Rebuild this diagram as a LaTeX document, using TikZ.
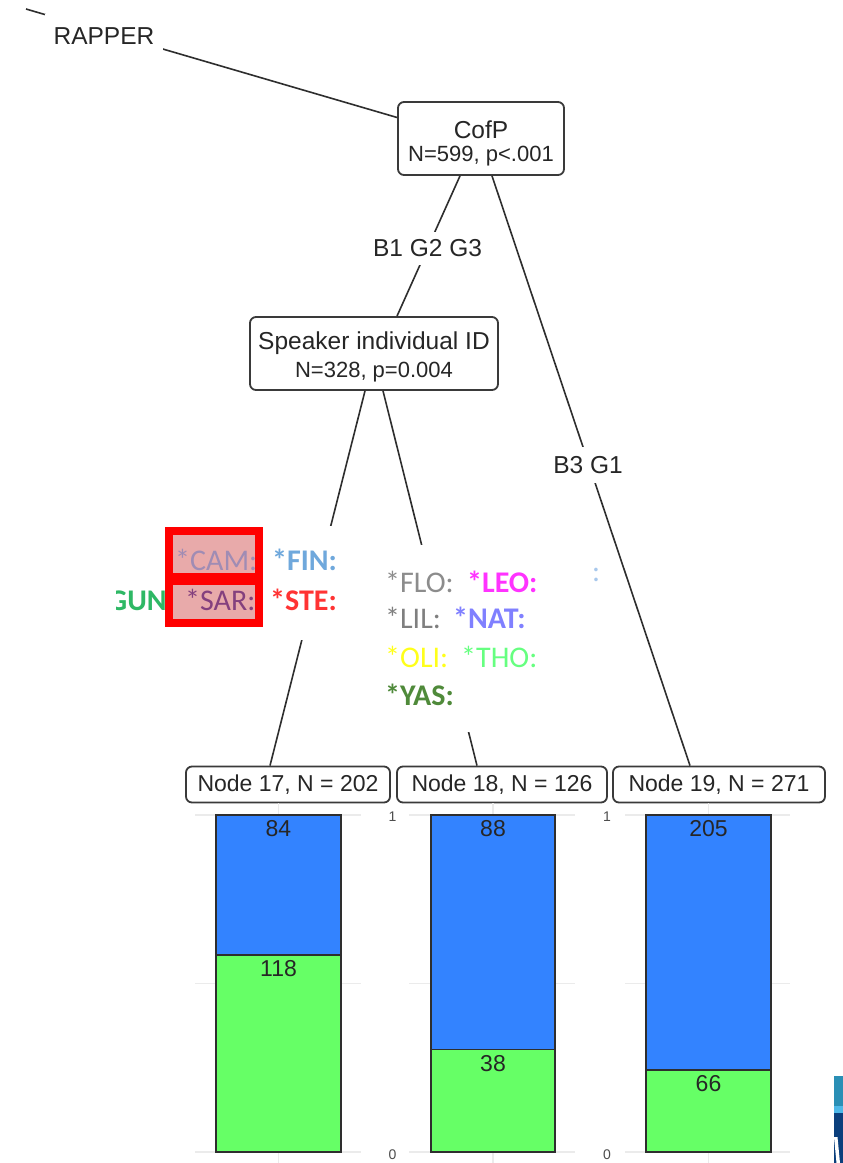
\documentclass[tikz,border=0pt]{standalone}
\usepackage{fontspec}
\setmainfont{Liberation Sans}
\newfontfamily\spkfont{Carlito}
\usetikzlibrary{calc}

\definecolor{inktxt}{HTML}{262626}
\definecolor{inkline}{HTML}{2E2E2E}
\definecolor{boxline}{HTML}{3A3A3A}
\definecolor{barblue}{HTML}{3383FF}
\definecolor{bargreen}{HTML}{66FF66}
\definecolor{gridgray}{HTML}{EBEBEB}
\definecolor{axisgray}{HTML}{4D4D4D}
\definecolor{cCAM}{HTML}{A08CB4}
\definecolor{cFIN}{HTML}{6FA8DC}
\definecolor{cGUN}{HTML}{2EB865}
\definecolor{cSAR}{HTML}{84407E}
\definecolor{cSTE}{HTML}{FF3333}
\definecolor{cFLO}{HTML}{8C8C8C}
\definecolor{cLEO}{HTML}{FF33FF}
\definecolor{cLIL}{HTML}{7F7F7F}
\definecolor{cNAT}{HTML}{8080FF}
\definecolor{cOLI}{HTML}{FFFF1A}
\definecolor{cTHO}{HTML}{66FF80}
\definecolor{cYAS}{HTML}{4F8A3A}
\definecolor{cDOT}{HTML}{A8C8EC}
\definecolor{markred}{HTML}{FF0000}
\definecolor{markfill}{HTML}{E8AAAA}
\definecolor{logoteal}{HTML}{2A8FB5}
\definecolor{logosky}{HTML}{4DB8E8}
\definecolor{logonavy}{HTML}{0B3F7C}

\begin{document}
\begin{tikzpicture}[x=1pt,y=-1pt,
  treeedge/.style={draw=inkline,line width=1.6pt},
  splitbox/.style={draw=boxline,line width=1.8pt,rounded corners=6pt,fill=white,inner sep=0pt},
  leafbox/.style={draw=boxline,line width=1.8pt,rounded corners=6pt,fill=white,inner sep=0pt,
                  minimum height=36pt,font=\fontsize{23}{27}\selectfont,text=inktxt},
  vartext/.style={font=\fontsize{24.5}{29}\selectfont,text=inktxt,inner sep=0pt},
  stattext/.style={font=\fontsize{22}{26}\selectfont,text=inktxt,inner sep=0pt},
  edgelabel/.style={fill=white,font=\fontsize{24.5}{29}\selectfont,text=inktxt,inner sep=0pt},
  spkword/.style={font=\spkfont\fontsize{30}{36}\selectfont,inner sep=0pt,anchor=base west},
  spkbold/.style={spkword,font=\spkfont\bfseries\fontsize{30}{36}\selectfont},
  countlbl/.style={font=\fontsize{23}{27}\selectfont,text=inktxt,inner sep=0pt},
  axislbl/.style={font=\fontsize{14}{16}\selectfont,text=axisgray,inner sep=0pt},
  gridrule/.style={draw=gridgray,line width=1.3pt},
  segment/.style={draw=inkline,line width=1.6pt},
  whitepad/.style={fill=white,inner sep=0pt},
]
\useasboundingbox (0,0) rectangle (843,1163);
\fill[white] (0,0) rectangle (843,1163);

% ---------- inner split nodes ----------
\node[splitbox,minimum width=166pt,minimum height=73pt] (cofp) at (481,138.5) {};
\node[vartext] (cofpvar) at (481,130) {CofP};
\node[stattext] (cofpstat) at (481,156) {N=599, p<.001};

\node[splitbox,minimum width=248pt,minimum height=73pt] (spk) at (374,353.5) {};
\node[vartext] (spkvar) at (374,343) {Speaker individual ID};
\node[stattext] (spkstat) at (374,372) {N=328, p=0.004};

% ---------- terminal nodes ----------
\node[leafbox,minimum width=204pt] (n17) at (288,784.5) {Node 17, N = 202};
\node[leafbox,minimum width=210pt] (n18) at (502,784.5) {Node 18, N = 126};
\node[leafbox,minimum width=212pt] (n19) at (719,784.5) {Node 19, N = 271};

% ---------- connectors ----------
\coordinate (parentstub) at (26,9);
\draw[treeedge] (parentstub) -- ($(cofp.west)+(0,-21)$);
\draw[treeedge] ($(cofp.south)+(-21,0)$) -- ($(spk.north)+(23,0)$);
\draw[treeedge] ($(cofp.south)+(11,0)$) -- ($(n19.north)+(-29,0)$);
\draw[treeedge] ($(spk.south)+(-9,0)$) -- ($(n17.north)+(-18,0)$);
\draw[treeedge] ($(spk.south)+(9,0)$) -- ($(n18.north)+(-25,0)$);

% ---------- edge labels ----------
\node[edgelabel,minimum width=118pt,minimum height=44pt] (lblrapper) at (104,36) {RAPPER};
\node[edgelabel,minimum width=118pt,minimum height=33pt] (lblleft) at (427.5,248.5) {B1 G2 G3};
\node[edgelabel,minimum width=78pt,minimum height=36pt] (lblright) at (588,465) {B3 G1};

% speaker lists on the two lower edges
\node[whitepad,minimum width=245pt,minimum height=114pt] (padleft) at (228,583) {};
\node[whitepad,minimum width=222pt,minimum height=187pt] (padright) at (489,638.5) {};

\fill[markfill] (173,535) rectangle (255,573);
\fill[markfill] (173,585) rectangle (255,619);

\begin{scope}
  \clip (116,500) rectangle (400,660);
  \node[spkbold,text=cGUN] (wGUN) at (93,610) {*GUN:};
\end{scope}
\node[spkword,text=cCAM] (wCAM) at (175,570) {*CAM:};
\node[spkbold,text=cFIN] (wFIN) at (272,570) {*FIN:};
\node[spkword,text=cSAR] (wSAR) at (185,610) {*SAR:};
\node[spkbold,text=cSTE] (wSTE) at (270,610) {*STE:};

\draw[markred,line width=8pt] (169,531) rectangle (259,577);
\draw[markred,line width=8pt] (169,581) rectangle (259,623);

\node[spkword,text=cFLO] (wFLO) at (385,592) {*FLO:};
\node[spkbold,text=cLEO] (wLEO) at (467,592) {*LEO:};
\node[spkword,text=cLIL] (wLIL) at (385,628) {*LIL:};
\node[spkbold,text=cNAT] (wNAT) at (453,628) {*NAT:};
\node[spkword,text=cOLI] (wOLI) at (385,667) {*OLI:};
\node[spkword,text=cTHO] (wTHO) at (461,667) {*THO:};
\node[spkbold,text=cYAS] (wYAS) at (385,705) {*YAS:};
\node[spkword,text=cDOT] (wDOT) at (592,581) {:};

% ---------- bar panels ----------
% grid
\foreach \xa/\xb/\xc in {195/361/278.5, 409/575/493, 625/790/708.5}{
  \draw[gridrule] (\xa,815) -- (\xb,815);
  \draw[gridrule] (\xa,983.5) -- (\xb,983.5);
  \draw[gridrule] (\xa,1152) -- (\xb,1152);
  \draw[gridrule] (\xc,803) -- (\xc,1163);
}

% Node 17: 84 / 118
\path[segment,fill=barblue]  (216,815) rectangle (341,955);
\path[segment,fill=bargreen] (216,955) rectangle (341,1152);
% Node 18: 88 / 38
\path[segment,fill=barblue]  (431,815) rectangle (555,1049.5);
\path[segment,fill=bargreen] (431,1049.5) rectangle (555,1152);
% Node 19: 205 / 66
\path[segment,fill=barblue]  (646,815) rectangle (771,1070);
\path[segment,fill=bargreen] (646,1070) rectangle (771,1152);

\node[countlbl] (k17a) at (278.5,829) {84};
\node[countlbl] (k17b) at (278.5,969) {118};
\node[countlbl] (k18a) at (493,829) {88};
\node[countlbl] (k18b) at (493,1063.5) {38};
\node[countlbl] (k19a) at (708.5,829) {205};
\node[countlbl] (k19b) at (708.5,1084) {66};

\node[axislbl] (ax18top) at (392.5,817) {1};
\node[axislbl] (ax18bot) at (392.5,1155) {0};
\node[axislbl] (ax19top) at (607,817) {1};
\node[axislbl] (ax19bot) at (607,1155) {0};

% ---------- corner badge ----------
\fill[logoteal] (834,1076) rectangle (843,1106);
\fill[logosky]  (834,1106) rectangle (843,1113);
\fill[logonavy] (834,1113) rectangle (843,1163);
\fill[white] (834,1137) -- (837.5,1137) -- (840,1163) -- (836.5,1163) -- cycle;
\end{tikzpicture}
\end{document}
